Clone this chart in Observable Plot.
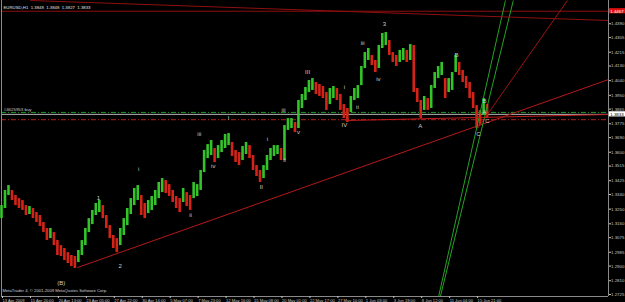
<!DOCTYPE html>
<html><head><meta charset="utf-8">
<script src="https://cdn.jsdelivr.net/npm/d3@7"></script>
<script src="https://cdn.jsdelivr.net/npm/@observablehq/plot@0.6"></script>
<style>html,body{margin:0;padding:0;background:#000;overflow:hidden}</style>
</head><body><div id="chart"></div>
<script>
// ---- data ----
const barStep = 8; // hourly bars aggregated per drawn bar
const highs = [1.3272,1.3365,1.3395,1.3365,1.3334,1.3315,1.3303,1.3272,1.3266,1.3254,
1.3229,1.3211,1.3168,1.3131,1.3131,1.3106,1.3057,1.3026,1.3008,1.2983,
1.2965,1.2959,1.2996,1.3057,1.3131,1.3192,1.3242,1.3285,1.3303,1.3272,
1.3211,1.3149,1.3088,1.3069,1.3131,1.3192,1.3254,1.3315,1.3377,1.3395,
1.3334,1.3285,1.3303,1.3328,1.3365,1.3414,1.3438,1.3426,1.3401,1.3365,
1.3328,1.3315,1.3377,1.3352,1.3334,1.3414,1.3401,1.3488,1.3611,1.3647,
1.3672,1.3623,1.3641,1.3672,1.3709,1.3715,1.3660,1.3611,1.3598,1.3635,
1.3660,1.3641,1.3580,1.3518,1.3488,1.3518,1.3580,1.3623,1.3641,1.3641,
1.3623,1.3764,1.3807,1.3807,1.3783,1.3918,1.3955,1.3998,1.4041,1.4053,
1.4029,1.4017,1.4004,1.3967,1.3992,1.4004,1.3992,1.3955,1.3893,1.3869,
1.3943,1.3992,1.4010,1.4127,1.4213,1.4238,1.4195,1.4164,1.4256,1.4330,
1.4336,1.4287,1.4213,1.4195,1.4226,1.4238,1.4226,1.4262,1.4256,1.3992,
1.3918,1.3943,1.3930,1.4010,1.4090,1.4127,1.4152,1.4053,1.4053,1.4090,
1.4195,1.4152,1.4103,1.4066,1.4029,1.3967,1.3887,1.3857,1.3930,1.3893];
const lows = [1.3192,1.3254,1.3334,1.3303,1.3272,1.3254,1.3242,1.3211,1.3217,1.3192,
1.3168,1.3143,1.3106,1.3057,1.3069,1.3026,1.2965,1.2959,1.2934,1.2916,
1.2897,1.2885,1.2922,1.2965,1.3026,1.3106,1.3155,1.3211,1.3229,1.3192,
1.3131,1.3069,1.3008,1.2983,1.3026,1.3088,1.3149,1.3217,1.3272,1.3303,
1.3211,1.3192,1.3223,1.3242,1.3272,1.3315,1.3352,1.3346,1.3328,1.3291,
1.3254,1.3229,1.3291,1.3266,1.3242,1.3315,1.3328,1.3365,1.3475,1.3561,
1.3580,1.3537,1.3561,1.3598,1.3623,1.3641,1.3574,1.3537,1.3518,1.3549,
1.3586,1.3561,1.3488,1.3451,1.3414,1.3438,1.3488,1.3549,1.3574,1.3586,
1.3549,1.3549,1.3734,1.3746,1.3721,1.3746,1.3869,1.3918,1.3967,1.3980,
1.3955,1.3943,1.3930,1.3857,1.3893,1.3930,1.3918,1.3857,1.3807,1.3783,
1.3844,1.3918,1.3930,1.4010,1.4115,1.4164,1.4133,1.4090,1.4115,1.4238,
1.4256,1.4195,1.4152,1.4127,1.4152,1.4164,1.4152,1.4164,1.3967,1.3906,
1.3807,1.3857,1.3857,1.3869,1.3992,1.4053,1.4072,1.3930,1.3967,1.3980,
1.4090,1.4072,1.4029,1.3992,1.3930,1.3869,1.3746,1.3764,1.3826,1.3807];

const timeTickBars = [0,64,128,192,256,320,384,448,512,576,640,704,768,832,896,960,1024,1088];
const timeTickLabels = ["13 Apr 2009","15 Apr 20:00","20 Apr 13:00","23 Apr 05:00","27 Apr 22:00",
"30 Apr 14:00","5 May 07:00","7 May 23:00","12 May 16:00","15 May 08:00","20 May 01:00",
"22 May 17:00","27 May 10:00","1 Jun 03:00","3 Jun 19:00","8 Jun 12:00","11 Jun 04:00","15 Jun 21:00"];
const priceTicks = [1.4390,1.4305,1.4215,1.4130,1.4040,1.3950,1.3865,1.3775,1.3690,1.3600,
1.3515,1.3425,1.3340,1.3250,1.3160,1.3075,1.2985,1.2900,1.2810,1.2725];

const waveText  = ["(B)","1","2","i","ii","iii","iv","I","II","i","ii","iii","v","III","IV","i","ii","iii","iv","3","A","B","C","B","A","C"];
const waveBar   = [137,222,272,314,433,453,485,520,595,609,648,646,680,701,785,785,815,827,863,877,959,1042,1092,1106,1106,1113];
const wavePrice = [1.2793,1.3321,1.2897,1.3494,1.3211,1.3709,1.3512,1.3813,1.3383,1.3684,1.3549,1.3857,1.3721,1.4090,1.3764,1.3998,1.3875,1.4269,1.4047,1.4385,1.3758,1.4195,1.3709,1.3912,1.3844,1.3789];

// drawn lines: [bar1, price1, bar2, price2]
const trendFromB   = [174, 1.2891, 1390, 1.4047];
const trendSteep   = [1090, 1.3746, 1296, 1.4533];
const greenLine1   = [1001, 1.2713, 1154, 1.4533];
const greenLine2   = [1005, 1.2713, 1172, 1.4533];
const topSlope     = [66, 1.4533, 1390, 1.4410];
const ivSupport    = [788, 1.3795, 1390, 1.3832];

const resistancePrice = 1.4467;
const orderPrice = 1.3845;
const orderLabel = "#4625953 buy";
const bidPrice = 1.3833;
const stopPrice = 1.3800;
const titleText = "EURUSD,H1  1.3848  1.3848  1.3827  1.3833";
const copyrightText = "MetaTrader 4, \u00a9 2001-2009 MetaQuotes Software Corp.";

// ---- build ----
const xMax = 1390, yMin = 1.2713, yMax = 1.4533;
const candles = highs.map((hi, i) => ({t: i * barStep, hi, lo: lows[i]}));
candles.forEach((d, i) => {
  const m = (d.hi + d.lo) / 2;
  const pm = i ? (candles[i-1].hi + candles[i-1].lo) / 2 : m - 1;
  d.color = m >= pm ? "#33c42a" : "#d42418";
});
const toLink = (a, color) => ({x1: a[0], y1: a[1], x2: a[2], y2: a[3], color});
const links = [
  toLink(trendFromB, "#b51a1a"),
  toLink(trendSteep, "#9c1414"),
  toLink(greenLine1, "#23a323"),
  toLink(greenLine2, "#23a323"),
  toLink(topSlope, "#8e1010"),
  toLink(ivSupport, "#c01c1c")
];
const waves = waveText.map((t, i) => ({t, x: waveBar[i], y: wavePrice[i]}));
const labelMap = new Map(timeTickBars.map((b, i) => [b, timeTickLabels[i]]));
const gray = "#c4c4c4";

const chart = Plot.plot({
  width: 625, height: 302,
  marginLeft: 1, marginRight: 17, marginTop: 0, marginBottom: 6,
  x: {domain: [0, xMax], axis: null},
  y: {domain: [yMin, yMax], axis: null},
  style: {background: "#000", color: gray, fontFamily: "Liberation Sans, DejaVu Sans, sans-serif", overflow: "hidden"},
  marks: [
    Plot.ruleY([resistancePrice], {stroke: "#8e1010", strokeWidth: 1}),
    Plot.ruleY([orderPrice], {stroke: "#1f9a1f", strokeDasharray: "5,2,1,2"}),
    Plot.ruleY([stopPrice], {stroke: "#b32020", strokeDasharray: "5,2,1,2"}),
    Plot.ruleY([bidPrice], {stroke: "#b8b8b8"}),
    Plot.ruleX(candles, {x: "t", y1: "lo", y2: "hi", stroke: "color", strokeWidth: 2.6}),
    Plot.link(links, {x1: "x1", y1: "y1", x2: "x2", y2: "y2", stroke: "color", strokeWidth: 1, clip: true}),
    Plot.text(waves, {x: "x", y: "y", text: "t", fill: "#cccccc", fontSize: 6}),
    Plot.text([orderLabel], {x: () => 5, y: () => orderPrice, text: d => d, textAnchor: "start", dy: -3, fill: "#c8c8c8", fontSize: 4.4}),
    Plot.text([titleText], {frameAnchor: "top-left", text: d => d, dx: 2, dy: 5, fill: "#e0e0e0", fontSize: 4.3}),
    Plot.text([copyrightText], {frameAnchor: "bottom-left", text: d => d, dx: 1, dy: -5, fill: "#d0d0d0", fontSize: 4.2}),
    // frame (left, right, bottom)
    Plot.ruleX([0, xMax], {stroke: "#8a8a8a"}),
    Plot.ruleY([yMin], {stroke: "#8a8a8a"}),
    Plot.axisY({anchor: "right", ticks: priceTicks, tickFormat: d => d.toFixed(4), tickSize: 2, tickPadding: 0.5, fontSize: 4.4}),
    Plot.axisX({anchor: "bottom", ticks: timeTickBars, tickFormat: d => labelMap.get(d), tickSize: 2, tickPadding: 0.5, textAnchor: "start", dx: 1, fontSize: 4.1}),
    // price boxes at right
    Plot.rect([{p: resistancePrice, f: "#e01010"}, {p: bidPrice, f: "#ffffff"}], {x1: () => xMax + 2, x2: () => xMax + 45, y1: d => d.p - 0.0016, y2: d => d.p + 0.0016, fill: "f"}),
    Plot.text([{p: resistancePrice, c: "#ffffff"}, {p: bidPrice, c: "#000000"}], {x: () => xMax + 4, y: "p", text: d => d.p.toFixed(4), fill: "c", textAnchor: "start", fontSize: 4.4})
  ]
});
document.getElementById("chart").appendChild(chart);
</script>
</body></html>
